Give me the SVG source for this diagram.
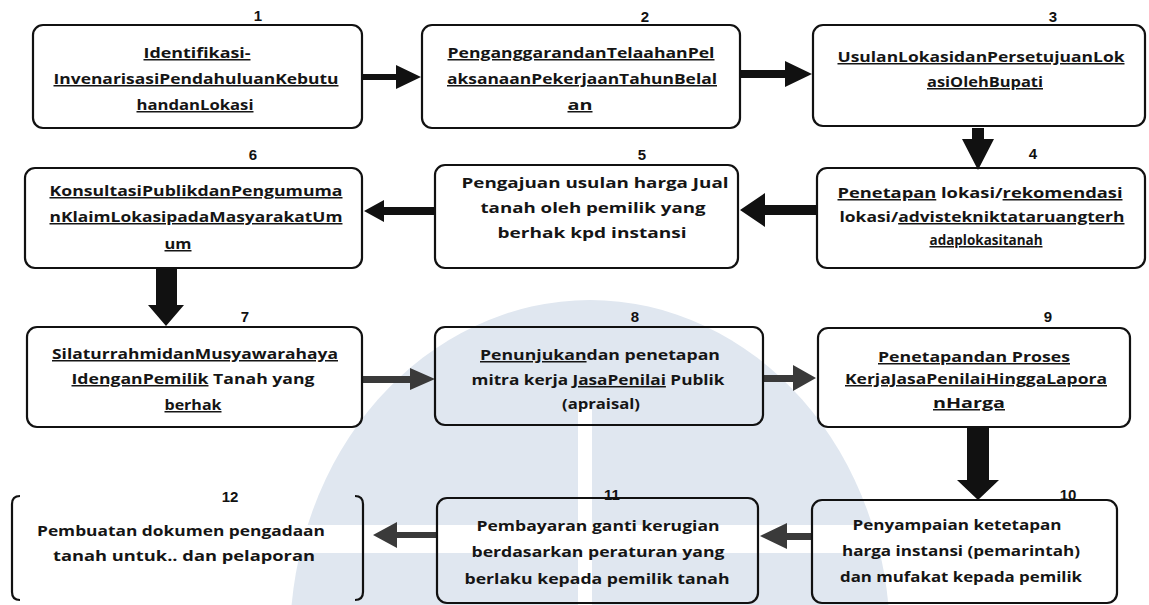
<svg xmlns="http://www.w3.org/2000/svg" width="1149" height="605" viewBox="0 0 1149 605">
<style>
.bg{fill:#ffffff}
.wm{fill:#e0e7f0}
.wmw{fill:#ffffff}
.box{fill:none;stroke:#111;stroke-width:2.2}
.t{font-family:"Open Sans","Liberation Sans",sans-serif;font-weight:700;font-size:15px;fill:#151515;text-anchor:middle}
.u{text-decoration:underline}
.num{font-family:"Liberation Sans",sans-serif;font-weight:700;font-size:15px;fill:#111;text-anchor:middle}
.ar{fill:#111}
.ag{fill:#3a3a3a}
</style>
<rect class="bg" x="0" y="0" width="1149" height="605"/>
<g id="watermark">
<ellipse class="wm" cx="590" cy="640" rx="300" ry="340"/>
<rect class="wmw" x="578" y="405" width="14" height="200"/>
<rect class="wmw" x="280" y="525" width="620" height="28"/>
</g>
<g id="connectors">
<polygon class="ar" points="362,74 396,74 396,65 421,77 396,89 396,80 362,80"/>
<polygon class="ar" points="741,70 785,70 785,61 812,74 785,87 785,78 741,78"/>
<polygon class="ar" points="972,128 984,128 984,139 994,139 978,170 962,139 972,139"/>
<polygon class="ar" points="817,205 765,205 765,193 740,210 765,227 765,215 817,215"/>
<polygon class="ar" points="435,207 384,207 384,200 364,211 384,222 384,215 435,215"/>
<polygon class="ar" points="156,268 177,268 177,305 184,305 166,326 148,305 156,305"/>
<polygon class="ag" points="362,376 410,376 410,368 435,379 410,390 410,383 362,383"/>
<polygon class="ag" points="763,375 793,375 793,365 816,378 793,391 793,382 763,382"/>
<polygon class="ar" points="967,427 989,427 989,480 999,480 978,500 957,480 967,480"/>
<polygon class="ag" points="812,533 787,533 787,523 760,536 787,549 787,540 812,540"/>
<polygon class="ag" points="437,532 397,532 397,522 373,535 397,548 397,538 437,538"/>
</g>
<g id="node1">
<rect class="box" x="33" y="25" width="329" height="103" rx="10"/>
<text class="num" x="258" y="21">1</text>
<text class="t" x="197" y="58" textLength="107" lengthAdjust="spacingAndGlyphs"><tspan class="u">Identifikasi-</tspan></text>
<text class="t" x="196" y="84" textLength="285" lengthAdjust="spacingAndGlyphs"><tspan class="u">InvenarisasiPendahuluanKebutu</tspan></text>
<text class="t" x="195" y="110" textLength="117" lengthAdjust="spacingAndGlyphs"><tspan class="u">handanLokasi</tspan></text>
</g>
<g id="node2">
<rect class="box" x="422" y="25" width="318" height="103" rx="10"/>
<text class="num" x="645" y="22">2</text>
<text class="t" x="581" y="58" textLength="267" lengthAdjust="spacingAndGlyphs"><tspan class="u">PenganggarandanTelaahanPel</tspan></text>
<text class="t" x="582" y="84" textLength="270" lengthAdjust="spacingAndGlyphs"><tspan class="u">aksanaanPekerjaanTahunBelal</tspan></text>
<text class="t" x="580" y="110" textLength="25" lengthAdjust="spacingAndGlyphs"><tspan class="u">an</tspan></text>
</g>
<g id="node3">
<rect class="box" x="813" y="25" width="332" height="101" rx="10"/>
<text class="num" x="1053" y="22">3</text>
<text class="t" x="981" y="62" textLength="287" lengthAdjust="spacingAndGlyphs"><tspan class="u">UsulanLokasidanPersetujuanLok</tspan></text>
<text class="t" x="985" y="87" textLength="116" lengthAdjust="spacingAndGlyphs"><tspan class="u">asiOlehBupati</tspan></text>
</g>
<g id="node4">
<rect class="box" x="817" y="168" width="328" height="100" rx="10"/>
<text class="num" x="1033" y="159">4</text>
<text class="t" x="980" y="198" textLength="285" lengthAdjust="spacingAndGlyphs"><tspan class="u">Penetapan</tspan> lokasi/<tspan class="u">rekomendasi</tspan></text>
<text class="t" x="982" y="222" textLength="285" lengthAdjust="spacingAndGlyphs">lokasi/<tspan class="u">advistekniktataruangterh</tspan></text>
<text class="t" x="986" y="245" textLength="113" lengthAdjust="spacingAndGlyphs"><tspan class="u">adaplokasitanah</tspan></text>
</g>
<g id="node5">
<rect class="box" x="435" y="165" width="303" height="103" rx="10"/>
<text class="num" x="642" y="160">5</text>
<text class="t" x="595" y="188" textLength="267" lengthAdjust="spacingAndGlyphs">Pengajuan usulan harga Jual</text>
<text class="t" x="593" y="213" textLength="225" lengthAdjust="spacingAndGlyphs">tanah oleh pemilik yang</text>
<text class="t" x="592" y="238" textLength="189" lengthAdjust="spacingAndGlyphs">berhak kpd instansi</text>
</g>
<g id="node6">
<rect class="box" x="25" y="168" width="337" height="100" rx="10"/>
<text class="num" x="253" y="160">6</text>
<text class="t" x="196" y="196" textLength="293" lengthAdjust="spacingAndGlyphs"><tspan class="u">KonsultasiPublikdanPengumuma</tspan></text>
<text class="t" x="196" y="222" textLength="293" lengthAdjust="spacingAndGlyphs"><tspan class="u">nKlaimLokasipadaMasyarakatUm</tspan></text>
<text class="t" x="178" y="249" textLength="27" lengthAdjust="spacingAndGlyphs"><tspan class="u">um</tspan></text>
</g>
<g id="node7">
<rect class="box" x="27" y="327" width="335" height="100" rx="10"/>
<text class="num" x="245" y="322">7</text>
<text class="t" x="195" y="359" textLength="286" lengthAdjust="spacingAndGlyphs"><tspan class="u">SilaturrahmidanMusyawarahaya</tspan></text>
<text class="t" x="193" y="384" textLength="243" lengthAdjust="spacingAndGlyphs"><tspan class="u">IdenganPemilik</tspan> Tanah yang</text>
<text class="t" x="193" y="410" textLength="57" lengthAdjust="spacingAndGlyphs"><tspan class="u">berhak</tspan></text>
</g>
<g id="node8">
<rect class="box" x="435" y="327" width="328" height="98" rx="10"/>
<text class="num" x="635" y="322">8</text>
<text class="t" x="600" y="360" textLength="240" lengthAdjust="spacingAndGlyphs"><tspan class="u">Penunjukan</tspan>dan penetapan</text>
<text class="t" x="598" y="385" textLength="253" lengthAdjust="spacingAndGlyphs">mitra kerja <tspan class="u">JasaPenilai</tspan> Publik</text>
<text class="t" x="601" y="409" textLength="78" lengthAdjust="spacingAndGlyphs">(apraisal)</text>
</g>
<g id="node9">
<rect class="box" x="818" y="328" width="312" height="99" rx="10"/>
<text class="num" x="1048" y="322">9</text>
<text class="t" x="974" y="362" textLength="192" lengthAdjust="spacingAndGlyphs"><tspan class="u">Penetapandan Proses</tspan></text>
<text class="t" x="976" y="384" textLength="262" lengthAdjust="spacingAndGlyphs"><tspan class="u">KerjaJasaPenilaiHinggaLapora</tspan></text>
<text class="t" x="969" y="408" textLength="72" lengthAdjust="spacingAndGlyphs"><tspan class="u">nHarga</tspan></text>
</g>
<g id="node10">
<rect class="box" x="812" y="500" width="305" height="103" rx="10"/>
<text class="num" x="1068" y="500">10</text>
<text class="t" x="957" y="530" textLength="209" lengthAdjust="spacingAndGlyphs">Penyampaian ketetapan</text>
<text class="t" x="961" y="556" textLength="238" lengthAdjust="spacingAndGlyphs">harga instansi (pemarintah)</text>
<text class="t" x="961" y="582" textLength="242" lengthAdjust="spacingAndGlyphs">dan mufakat kepada pemilik</text>
</g>
<g id="node11">
<rect class="box" x="437" y="498" width="321" height="105" rx="10"/>
<text class="num" x="612" y="500">11</text>
<text class="t" x="598" y="531" textLength="243" lengthAdjust="spacingAndGlyphs">Pembayaran ganti kerugian</text>
<text class="t" x="598" y="557" textLength="253" lengthAdjust="spacingAndGlyphs">berdasarkan peraturan yang</text>
<text class="t" x="597" y="584" textLength="265" lengthAdjust="spacingAndGlyphs">berlaku kepada pemilik tanah</text>
</g>
<g id="node12">
<path class="box" d="M20,496 Q12,496 12,504 L12,592 Q12,600 20,600"/>
<path class="box" d="M355,496 Q363,496 363,504 L363,592 Q363,600 355,600"/>
<text class="num" x="230" y="502">12</text>
<text class="t" x="181" y="536" textLength="288" lengthAdjust="spacingAndGlyphs">Pembuatan dokumen pengadaan</text>
<text class="t" x="184" y="561" textLength="262" lengthAdjust="spacingAndGlyphs">tanah untuk..  dan pelaporan</text>
</g>
</svg>
